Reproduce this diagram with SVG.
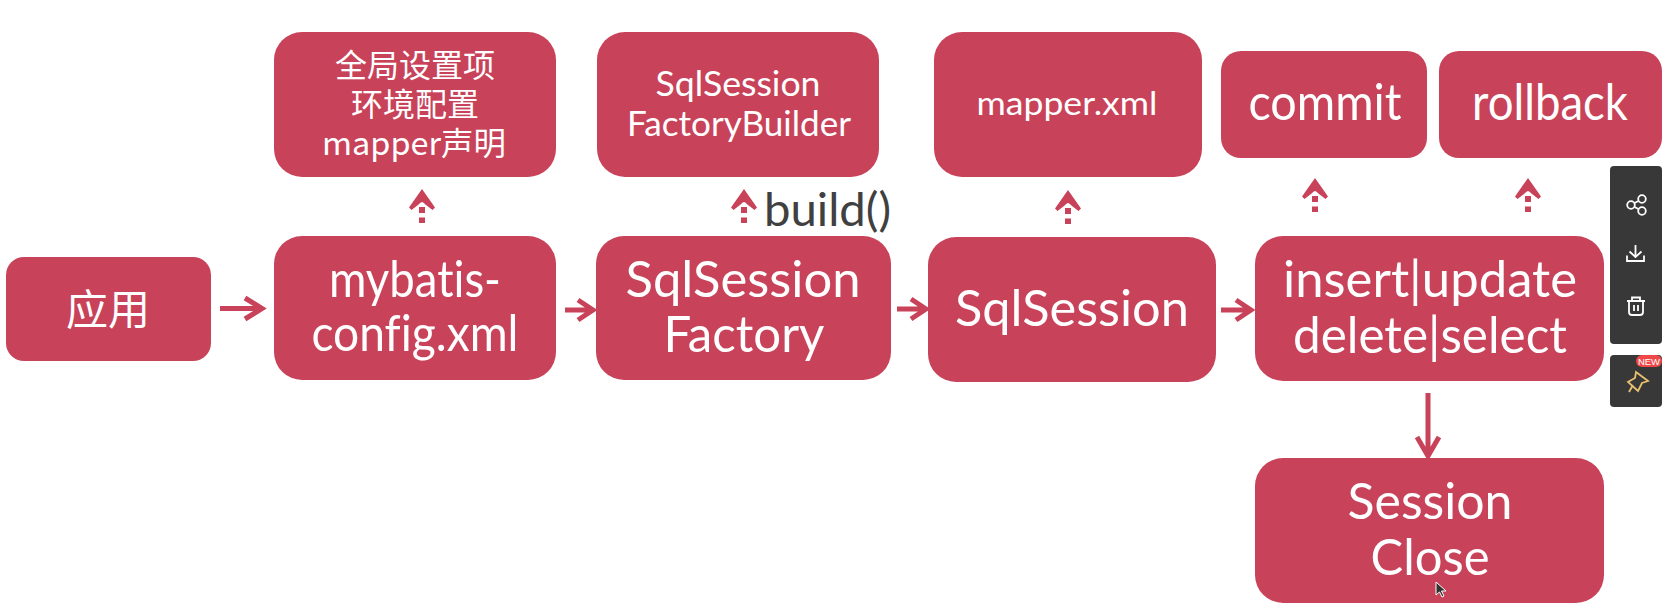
<svg xmlns="http://www.w3.org/2000/svg" width="1663" height="606" viewBox="0 0 1663 606">
<defs>
<g id="up"><path d="M0 0L13 18.500L10.500 21L4 16Q1 13 0 13Q-1 13 -4 16L-10.500 21L-13 18.500Z" fill="#c8435a"/><rect x="-3" y="18" width="6" height="6" fill="#c8435a"/><rect x="-3" y="28.500" width="6" height="5.500" fill="#c8435a"/></g>
</defs>
<style>
.box{fill:#c8435a}
.t{font-family:"Lato","Noto Sans CJK SC",sans-serif;fill:#fff;text-anchor:middle;font-variant-ligatures:none}
.l{font-size:51px}.m{font-size:35px}.s{font-size:33px}.c{font-size:50px}.z{font-size:32px;font-family:"Noto Sans CJK SC",sans-serif}
.arr{stroke:#c8435a;stroke-width:5;fill:none;stroke-linecap:butt;stroke-linejoin:miter}
.ic{stroke:#fff;stroke-width:1.800;fill:none}
</style>
<rect width="1663" height="606" fill="#fff"/>
<g id="connectors">
<use href="#up" x="422" y="189"/><use href="#up" x="744" y="189"/><use href="#up" x="1068" y="190"/><use href="#up" x="1315" y="178"/><use href="#up" x="1528" y="178"/>
<path class="arr" d="M220 308.500H261M245 298L262 308.500L245 319"/>
<path class="arr" d="M565 310H592M578 300L593 310L578 320"/>
<path class="arr" d="M897 309H925M911 299L926 309L911 319"/>
<path class="arr" d="M1221 310H1250M1236 300L1251 310L1236 320"/>
<path class="arr" d="M1428 393V452M1417 437L1428 456L1439 437"/>
</g>
<g id="app"><rect class="box" x="6" y="257" width="205" height="104" rx="18"/><text class="t" font-size="42" x="108" y="325">应用</text></g>
<g id="global"><rect class="box" x="274" y="32" width="282" height="145" rx="28"/><text class="t z" x="415" y="77">全局设置项</text><text class="t z" x="415" y="116">环境配置</text><text class="t z" x="414" y="155" textLength="184" lengthAdjust="spacingAndGlyphs">mapper声明</text></g>
<g id="config"><rect class="box" x="274" y="236" width="282" height="144" rx="28"/><text class="t l" x="415" y="297" textLength="172" lengthAdjust="spacingAndGlyphs">mybatis-</text><text class="t l" x="415" y="351" textLength="207" lengthAdjust="spacingAndGlyphs">config.xml</text></g>
<g id="builder"><rect class="box" x="597" y="32" width="282" height="145" rx="28"/><text class="t m" x="738" y="96" textLength="165" lengthAdjust="spacingAndGlyphs">SqlSession</text><text class="t m" x="739" y="136" textLength="224" lengthAdjust="spacingAndGlyphs">FactoryBuilder</text></g>
<text id="build-label" x="764" y="226" font-family="Lato,sans-serif" font-size="47" fill="#404040" textLength="127" lengthAdjust="spacingAndGlyphs">build()</text>
<g id="factory"><rect class="box" x="596" y="236" width="295" height="144" rx="28"/><text class="t l" x="743" y="297" textLength="235" lengthAdjust="spacingAndGlyphs">SqlSession</text><text class="t l" x="744" y="352" textLength="161" lengthAdjust="spacingAndGlyphs">Factory</text></g>
<g id="mapper"><rect class="box" x="934" y="32" width="268" height="145" rx="28"/><text class="t s" x="1067" y="115" textLength="181" lengthAdjust="spacingAndGlyphs">mapper.xml</text></g>
<g id="session"><rect class="box" x="928" y="237" width="288" height="145" rx="28"/><text class="t l" x="1072" y="326" textLength="234" lengthAdjust="spacingAndGlyphs">SqlSession</text></g>
<g id="commit"><rect class="box" x="1221" y="51" width="206" height="107" rx="20"/><text class="t c" x="1325" y="120" textLength="153" lengthAdjust="spacingAndGlyphs">commit</text></g>
<g id="rollback"><rect class="box" x="1439" y="51" width="223" height="107" rx="20"/><text class="t c" x="1550" y="120" textLength="156" lengthAdjust="spacingAndGlyphs">rollback</text></g>
<g id="crud"><rect class="box" x="1255" y="236" width="349" height="145" rx="28"/><text class="t l" x="1430" y="297" textLength="294" lengthAdjust="spacingAndGlyphs">insert|update</text><text class="t l" x="1430" y="353" textLength="274" lengthAdjust="spacingAndGlyphs">delete|select</text></g>
<g id="close"><rect class="box" x="1255" y="458" width="349" height="145" rx="28"/><text class="t l" x="1430" y="519" textLength="165" lengthAdjust="spacingAndGlyphs">Session</text><text class="t l" x="1430" y="575" textLength="119" lengthAdjust="spacingAndGlyphs">Close</text></g>
<path id="cursor" d="M1436 582V595L1439.500 592L1442 597L1444 596L1441.500 591L1446 591Z" fill="#333" stroke="#fff" stroke-width="1"/>
<g id="toolbar">
<rect x="1610" y="166" width="52" height="178" rx="4" fill="#383838"/>
<rect x="1610" y="355" width="52" height="52" rx="4" fill="#383838"/>
<circle class="ic" cx="1631" cy="205" r="3.800"/><circle class="ic" cx="1642" cy="199" r="3.800"/><circle class="ic" cx="1642" cy="211" r="3.800"/><path class="ic" d="M1634.500 203L1638.500 201M1634.500 207L1638.500 209"/>
<path class="ic" d="M1627 255.500V261H1644V255.500M1635.500 245V257M1629.500 251.500L1635.500 257L1641.500 251.500"/>
<path class="ic" d="M1627 301H1645M1632 301V297.500H1640V301M1629 301V312Q1629 315 1632 315H1640Q1643 315 1643 312V301M1634 305V311M1638 305V311"/>
<rect x="1636" y="355" width="26" height="12" rx="6" fill="#f04848"/>
<text x="1649" y="364.500" font-family="Liberation Sans,sans-serif" font-size="9.500" fill="#fff" text-anchor="middle">NEW</text>
<path d="M1636 372L1648 381L1642 383L1638 391L1628 382L1635 378ZM1633 385L1629 392" fill="none" stroke="#e8c070" stroke-width="1.800"/>
</g>
</svg>
